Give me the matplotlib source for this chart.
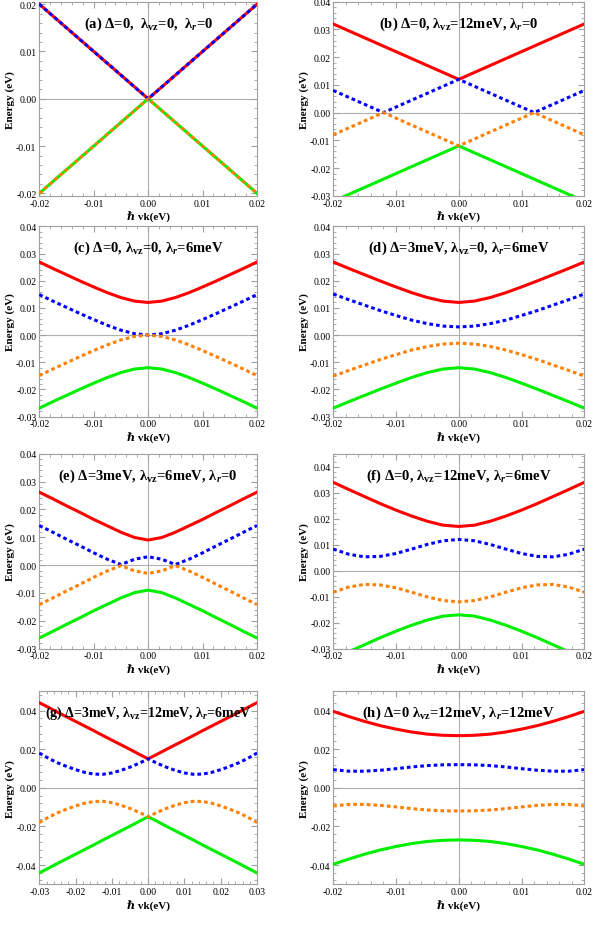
import matplotlib
matplotlib.use("Agg")
import matplotlib.pyplot as plt
from matplotlib.ticker import AutoMinorLocator

plt.rcParams['font.family'] = ['Liberation Serif', 'DejaVu Serif']
plt.rcParams['mathtext.fontset'] = 'custom'
plt.rcParams['mathtext.rm'] = 'Liberation Serif:bold'
plt.rcParams['mathtext.it'] = 'Liberation Serif:italic:bold'
plt.rcParams['mathtext.bf'] = 'Liberation Serif:bold'

# half-grids (x >= 0); bands are symmetric in x
x20 = [0, .0025, .005, .0075, .01, .0125, .015, .0175, .02]
x30 = [0, .0025, .005, .0075, .01, .0125, .015, .0175, .02, .0225, .025, .0275, .03]

red_a = [0, .0025, .005, .0075, .01, .0125, .015, .0175, .02]
blue_a = [0, .0025, .005, .0075, .01, .0125, .015, .0175, .02]
orange_a = [0, -.0025, -.005, -.0075, -.01, -.0125, -.015, -.0175, -.02]
green_a = [0, -.0025, -.005, -.0075, -.01, -.0125, -.015, -.0175, -.02]

x20b = [0, .0025, .005, .0075, .01, .012, .0145, .017, .02]
red_b = [.012, .0145, .017, .0195, .022, .024, .0265, .029, .032]
blue_b = [.012, .0095, .007, .0045, .002, 0, .0025, .005, .008]
orange_b = [-.012, -.0095, -.007, -.0045, -.002, 0, -.0025, -.005, -.008]
green_b = [-.012, -.0145, -.017, -.0195, -.022, -.024, -.0265, -.029, -.032]

red_c = [.012, .0125, .0138, .0156, .0177, .0199, .0222, .0245, .0269]
blue_c = [0, .0005, .0018, .0036, .0057, .0079, .0102, .0125, .0149]
orange_c = [0, -.0005, -.0018, -.0036, -.0057, -.0079, -.0102, -.0125, -.0149]
green_c = [-.012, -.0125, -.0138, -.0156, -.0177, -.0199, -.0222, -.0245, -.0269]

red_d = [.012, .0125, .0138, .0156, .0177, .0199, .0222, .0245, .0269]
blue_d = [.003, .0033, .0042, .0055, .0072, .0090, .0110, .0130, .0151]
orange_d = [-.003, -.0033, -.0042, -.0055, -.0072, -.0090, -.0110, -.0130, -.0151]
green_d = [-.012, -.0125, -.0138, -.0156, -.0177, -.0199, -.0222, -.0245, -.0269]

red_e = [.009, .0099, .0118, .0141, .0164, .0189, .0213, .0238, .0262]
blue_e = [.003, .0021, .0002, .0021, .0044, .0069, .0093, .0118, .0142]
orange_e = [-.003, -.0021, -.0002, -.0021, -.0044, -.0069, -.0093, -.0118, -.0142]
green_e = [-.009, -.0099, -.0118, -.0141, -.0164, -.0189, -.0213, -.0238, -.0262]

red_f = [.017, .0175, .019, .021, .0233, .0258, .0285, .0312, .034]
blue_f = [.012, .0115, .0101, .0083, .0066, .0055, .0053, .0063, .0083]
orange_f = [-.012, -.0115, -.0101, -.0083, -.0066, -.0055, -.0053, -.0063, -.0083]
green_f = [-.017, -.0175, -.019, -.021, -.0233, -.0258, -.0285, -.0312, -.034]

red_g = [.015, .0174, .0199, .0223, .0247, .0271, .0296, .0320, .0344, .0368, .0392, .0417, .0441]
blue_g = [.015, .0127, .0107, .0090, .0077, .0070, .0071, .0080, .0094, .0111, .0130, .0153, .0180]
orange_g = [-.015, -.0127, -.0107, -.0090, -.0077, -.0070, -.0071, -.0080, -.0094, -.0111, -.0130, -.0153, -.0180]
green_g = [-.015, -.0174, -.0199, -.0223, -.0247, -.0271, -.0296, -.0320, -.0344, -.0368, -.0392, -.0417, -.0441]

red_h = [.027, .0272, .0278, .0289, .0304, .0322, .0344, .0369, .0396]
blue_h = [.012, .0119, .0115, .0108, .0099, .0091, .0086, .0086, .0094]
orange_h = [-.012, -.0119, -.0115, -.0108, -.0099, -.0091, -.0086, -.0086, -.0094]
green_h = [-.027, -.0272, -.0278, -.0289, -.0304, -.0322, -.0344, -.0369, -.0396]

titles = [
    r'(a) Δ=0,  λ$_{\rm vz}$=0,  λ$_r$=0',
    r'(b) Δ=0, λ$_{\rm vz}$=12meV, λ$_r$=0',
    r'(c) Δ=0, λ$_{\rm vz}$=0, λ$_r$=6meV',
    r'(d) Δ=3meV, λ$_{\rm vz}$=0, λ$_r$=6meV',
    r'(e) Δ=3meV, λ$_{\rm vz}$=6meV, λ$_r$=0',
    r'(f) Δ=0, λ$_{\rm vz}$=12meV, λ$_r$=6meV',
    r'(g) Δ=3meV, λ$_{\rm vz}$=12meV, λ$_r$=6meV',
    r'(h) Δ=0 λ$_{\rm vz}$=12meV, λ$_r$=12meV',
]
Y34 = [-0.03, -0.02, -0.01, 0, 0.01, 0.02, 0.03, 0.04]
panels = [
    (x20, red_a, blue_a, orange_a, green_a, (-0.02, 0.02), (-0.0205, 0.0205), [-0.02, -0.01, 0, 0.01, 0.02]),
    (x20b, red_b, blue_b, orange_b, green_b, (-0.02, 0.02), (-0.03, 0.04), Y34),
    (x20, red_c, blue_c, orange_c, green_c, (-0.02, 0.02), (-0.03, 0.04), Y34),
    (x20, red_d, blue_d, orange_d, green_d, (-0.02, 0.02), (-0.03, 0.04), Y34),
    (x20, red_e, blue_e, orange_e, green_e, (-0.02, 0.02), (-0.03, 0.04), Y34),
    (x20, red_f, blue_f, orange_f, green_f, (-0.02, 0.02), (-0.03, 0.045), Y34),
    (x30, red_g, blue_g, orange_g, green_g, (-0.03, 0.03), (-0.05, 0.05), [-0.04, -0.02, 0, 0.02, 0.04]),
    (x20, red_h, blue_h, orange_h, green_h, (-0.02, 0.02), (-0.05, 0.05), [-0.04, -0.02, 0, 0.02, 0.04]),
]

def full(xh, yh, xs=False):
    if xs:
        return [-v for v in xh[::-1]] + list(xh[1:])
    return list(yh[::-1]) + list(yh[1:])

fig = plt.figure(figsize=(5.95, 9.28), dpi=100)
lefts = [0.066, 0.56]
widths = [0.366, 0.422]
rows = [(0.788, 0.209), (0.550, 0.205), (0.300, 0.210), (0.046, 0.208)]
gray = '#a0a0a0'
for i, (title, p) in enumerate(zip(titles, panels)):
    r, c = divmod(i, 2)
    ax = fig.add_axes([lefts[c], rows[r][0], widths[c], rows[r][1]])
    xh, red, blue, orange, green, xl, yl, yt = p
    X = full(xh, None, xs=True)
    ax.axhline(0, color='#b0b0b0', lw=0.8, zorder=1)
    ax.axvline(0, color='#b0b0b0', lw=0.8, zorder=1)
    ax.plot(X, full(xh, red), color='#ff0000', lw=2.2, zorder=3)
    ax.plot(X, full(xh, green), color='#00ee00', lw=2.2, zorder=3)
    ax.plot(X, full(xh, blue), color='#0000ff', lw=2.2, ls=(0, (1.2, 1.0)), zorder=4)
    ax.plot(X, full(xh, orange), color='#ff8000', lw=2.2, ls=(0, (1.2, 1.0)), zorder=4)
    ax.set_xlim(xl)
    ax.set_ylim(yl)
    ax.set_yticks(yt)
    if xl[1] == 0.03:
        ax.set_xticks([-0.03, -0.02, -0.01, 0, 0.01, 0.02, 0.03])
    else:
        ax.set_xticks([-0.02, -0.01, 0, 0.01, 0.02])
    ax.xaxis.set_major_formatter(matplotlib.ticker.FormatStrFormatter('%.2f'))
    ax.yaxis.set_major_formatter(matplotlib.ticker.FormatStrFormatter('%.2f'))
    ax.xaxis.set_minor_locator(AutoMinorLocator(5))
    ax.yaxis.set_minor_locator(AutoMinorLocator(5))
    ax.tick_params(which='both', direction='in', top=True, right=True, color=gray, labelsize=7, pad=2)
    ax.tick_params(which='major', length=4)
    ax.tick_params(which='minor', length=2)
    for s in ax.spines.values():
        s.set_color(gray)
    ax.set_ylabel('Energy (eV)', fontsize=8, fontweight='bold', labelpad=1)
    ax.set_xlabel(r'ℏ vk(eV)', fontsize=8, fontweight='bold', labelpad=2)
    ax.text(0.5, 0.89, title, transform=ax.transAxes, ha='center', va='center',
            fontsize=10.5 if i != 6 else 10, fontweight='bold', zorder=6)

fig.savefig('out.png', dpi=100, facecolor='white')
